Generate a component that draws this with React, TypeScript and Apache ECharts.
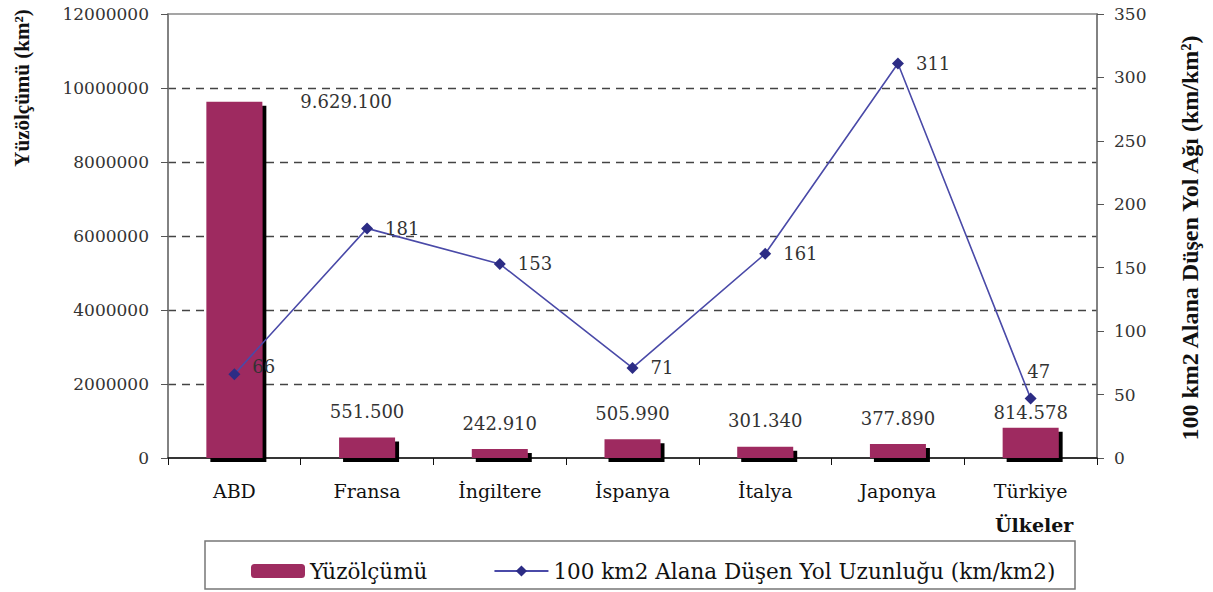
import React, { useEffect, useRef } from "react";
import * as echarts from "echarts";

const countries = ["ABD", "Fransa", "İngiltere", "İspanya", "İtalya", "Japonya", "Türkiye"];
const areaValues = [9629100, 551500, 242910, 505990, 301340, 377890, 814578];
const roadDensity = [66, 181, 153, 71, 161, 311, 47];
const barName = "Yüzölçümü";
const lineName = "100 km2 Alana Düşen Yol Uzunluğu (km/km2)";
const leftTitle = "Yüzölçümü (km²)";
const rightTitle = "100 km2 Alana Düşen Yol Ağı (km/km²)";
const xTitle = "Ülkeler";

const SERIF = "DejaVu Serif";
const TIMES = "Liberation Serif";

function fmtTr(v: number): string {
  return String(Math.round(v)).replace(/\B(?=(\d{3})+(?!\d))/g, ".");
}

export default function App() {
  const ref = useRef<HTMLDivElement>(null);
  useEffect(() => {
    if (!ref.current) return;
    const chart = echarts.init(ref.current, undefined, { renderer: "svg" });

    const barData = areaValues.map((v, i) => {
      const d: any = { value: v };
      if (i === 0) {
        d.label = { position: ["100%", 0], offset: [38, 0], align: "left", verticalAlign: "middle" };
      } else if (i === 6) {
        d.label = { distance: 6 };
      }
      return d;
    });

    const lineData = roadDensity.map((v, i) => {
      const d: any = { value: v };
      if (i === 0) d.label = { offset: [0, -8] };
      if (i === 6) d.label = { position: "top", distance: 12, offset: [8, 0] };
      return d;
    });

    chart.setOption({
      animation: false,
      backgroundColor: "#ffffff",
      grid: {
        left: 168,
        right: 116,
        top: 14,
        bottom: 134,
        show: true,
        borderColor: "#888",
        borderWidth: 1.5,
        backgroundColor: "transparent",
      },
      graphic: [
        {
          type: "rect",
          shape: { x: 205, y: 541, width: 870, height: 48 },
          style: { fill: "none", stroke: "#777", lineWidth: 1.5 },
        },
        {
          type: "text",
          left: 995,
          top: 515,
          style: { text: xTitle, font: `bold 19px "${SERIF}"`, fill: "#111" },
        },
        {
          type: "text",
          x: 22,
          y: 88,
          rotation: Math.PI / 2,
          style: {
            text: leftTitle,
            font: `bold 21px "${TIMES}"`,
            fill: "#111",
            align: "center",
            verticalAlign: "middle",
          },
        },
        {
          type: "text",
          x: 1190,
          y: 238,
          rotation: Math.PI / 2,
          style: {
            text: rightTitle,
            font: `bold 24px "${TIMES}"`,
            fill: "#111",
            align: "center",
            verticalAlign: "middle",
          },
        },
      ],
      legend: {
        left: 246,
        top: 555,
        itemWidth: 54,
        itemHeight: 14,
        itemGap: 66,
        data: [barName, lineName],
        textStyle: { fontFamily: SERIF, fontSize: 21.5, color: "#111" },
      },
      xAxis: {
        type: "category",
        data: countries,
        axisLine: { lineStyle: { color: "#111", width: 1.5 } },
        axisTick: { show: true, length: 7, lineStyle: { color: "#111" } },
        axisLabel: { fontFamily: SERIF, fontSize: 19, color: "#111", margin: 23 },
      },
      yAxis: [
        {
          type: "value",
          min: 0,
          max: 12000000,
          interval: 2000000,
          axisLine: { show: true, lineStyle: { color: "#777", width: 1.5 } },
          axisTick: { show: true, length: 7, lineStyle: { color: "#555" } },
          axisLabel: {
            fontFamily: SERIF,
            fontSize: 17,
            color: "#333",
            margin: 19,
            formatter: (v: number) => String(v),
          },
          splitLine: {
            show: true,
            showMinLine: false,
            showMaxLine: false,
            lineStyle: { color: "#444", type: [8, 6], width: 1.3 },
          },
        },
        {
          type: "value",
          min: 0,
          max: 350,
          interval: 50,
          position: "right",
          axisLine: { show: true, lineStyle: { color: "#777", width: 1.5 } },
          axisTick: { show: true, length: 7, lineStyle: { color: "#555" } },
          axisLabel: { fontFamily: SERIF, fontSize: 17, color: "#333", margin: 17 },
          splitLine: { show: false },
        },
      ],
      series: [
        {
          name: barName,
          type: "bar",
          yAxisIndex: 0,
          barWidth: 56,
          data: barData,
          z: 2,
          itemStyle: {
            color: "#9E2C60",
            shadowColor: "#000",
            shadowBlur: 0,
            shadowOffsetX: 4,
            shadowOffsetY: 4,
          },
          label: {
            show: true,
            position: "top",
            distance: 17,
            fontFamily: SERIF,
            fontSize: 18,
            color: "#333",
            formatter: (p: any) => fmtTr(p.value),
          },
        },
        {
          name: lineName,
          type: "line",
          yAxisIndex: 1,
          data: lineData,
          z: 5,
          symbol: "diamond",
          symbolSize: 12,
          lineStyle: { color: "#4A4AA8", width: 1.6 },
          itemStyle: { color: "#2C2C85" },
          label: {
            show: true,
            position: "right",
            distance: 12,
            fontFamily: SERIF,
            fontSize: 18,
            color: "#333",
          },
        },
      ],
    });
    return () => chart.dispose();
  }, []);
  return <div ref={ref} style={{ width: 1213, height: 592, position: "absolute", left: 0, top: 0 }} />;
}
